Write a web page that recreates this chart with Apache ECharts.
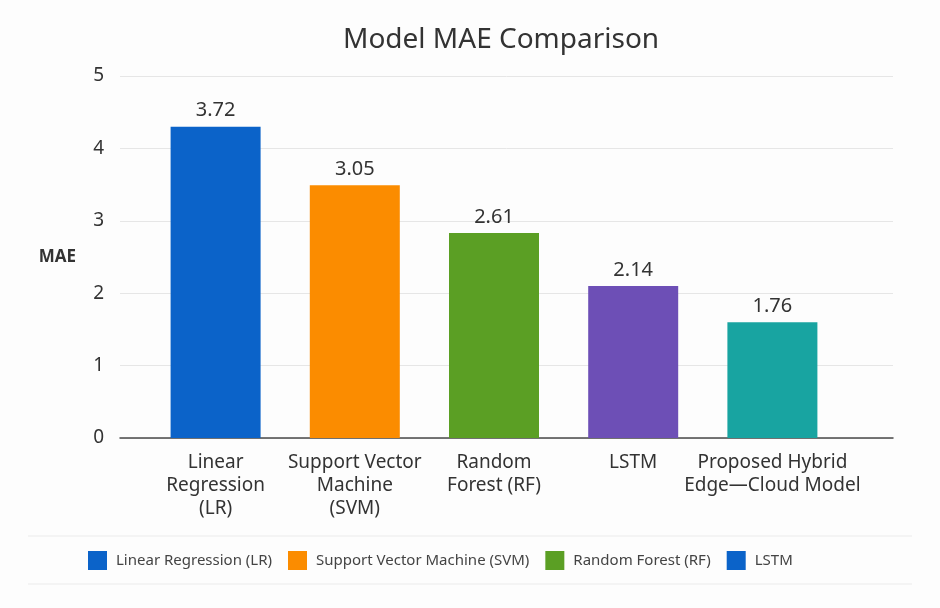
<!DOCTYPE html>
<html>
<head>
<meta charset="utf-8">
<script src="https://cdn.jsdelivr.net/npm/echarts@6/dist/echarts.min.js"></script>
<style>
html,body{margin:0;padding:0;background:#fdfdfd;}
#chart{width:940px;height:608px;}
</style>
</head>
<body>
<div id="chart"></div>
<script>
// ---- data ----
var categories = ['Linear\nRegression\n(LR)', 'Support Vector\nMachine\n(SVM)', 'Random\nForest (RF)', 'LSTM', 'Proposed Hybrid\nEdge\u2014Cloud Model'];
var barValues = [4.30, 3.49, 2.83, 2.10, 1.60];
var valueLabels = ['3.72', '3.05', '2.61', '2.14', '1.76'];
var barColors = ['#0b63c9', '#fb8c00', '#5b9f24', '#6d4fb6', '#18a4a1'];
var legendNames = ['Linear Regression (LR)', 'Support Vector Machine (SVM)', 'Random Forest (RF)', 'LSTM'];
var legendColors = ['#0b63c9', '#fb8c00', '#5b9f24', '#0b63c9'];
var yTicks = [0, 1, 2, 3, 4, 5];

var FONT = 'Noto Sans';
var chart = echarts.init(document.getElementById('chart'));

var series = [{
  name: 'MAE',
  type: 'bar',
  xAxisIndex: 1,
  yAxisIndex: 1,
  barWidth: 90,
  data: barValues.map(function (v, i) { return { value: v, itemStyle: { color: barColors[i] } }; }),
  label: {
    show: true,
    position: 'top',
    distance: 6,
    fontFamily: FONT,
    fontSize: 20,
    color: '#333',
    formatter: function (p) { return valueLabels[p.dataIndex]; }
  },
  silent: true
}];
legendNames.forEach(function (n, i) {
  series.push({
    name: n, type: 'line', xAxisIndex: 1, yAxisIndex: 1, data: [],
    itemStyle: { color: legendColors[i] }, lineStyle: { color: legendColors[i] }
  });
});

chart.setOption({
  backgroundColor: '#fdfdfd',
  animation: false,
  title: {
    text: 'Model MAE Comparison',
    left: 338,
    top: 21,
    textStyle: { fontFamily: FONT, fontSize: 28, fontWeight: 'normal', color: '#333' }
  },
  legend: {
    data: legendNames,
    left: 88,
    top: 551,
    padding: 0,
    icon: 'rect',
    itemWidth: 19,
    itemHeight: 19,
    itemGap: 16,
    textStyle: { fontFamily: FONT, fontSize: 15, color: '#444', padding: [0, 0, 0, 4] },
    selectedMode: false
  },
  grid: [
    { left: 120, right: 47, top: 76, bottom: 170 },
    { left: 146, right: 98, top: 76, bottom: 170 }
  ],
  xAxis: [
    { type: 'value', gridIndex: 0, min: 0, max: 1, axisLabel: { show: false }, axisTick: { show: false }, splitLine: { show: false },
      axisLine: { show: true, onZero: false, lineStyle: { color: '#4a4a4a', width: 1.5 } } },
    { type: 'category', gridIndex: 1, data: categories, axisLine: { show: false }, axisTick: { show: false },
      axisLabel: { interval: 0, margin: 13, fontFamily: FONT, fontSize: 19, lineHeight: 23, color: '#333' } }
  ],
  yAxis: [
    { type: 'value', gridIndex: 0, min: yTicks[0], max: yTicks[yTicks.length - 1], interval: 1,
      name: 'MAE', nameLocation: 'middle', nameRotate: 0, nameGap: 44,
      nameTextStyle: { fontFamily: FONT, fontSize: 17, fontWeight: 'bold', color: '#333' },
      axisLine: { show: false }, axisTick: { show: false },
      axisLabel: { margin: 16, fontFamily: FONT, fontSize: 19, color: '#333' },
      splitLine: { lineStyle: { color: '#e6e6e6', width: 1 } } },
    { type: 'value', gridIndex: 1, min: yTicks[0], max: yTicks[yTicks.length - 1], interval: 1, show: false, splitLine: { show: false } }
  ],
  graphic: [
    { type: 'line', shape: { x1: 28, y1: 536, x2: 912, y2: 536 }, style: { stroke: '#ebebeb', lineWidth: 1 }, silent: true },
    { type: 'line', shape: { x1: 28, y1: 584, x2: 912, y2: 584 }, style: { stroke: '#ebebeb', lineWidth: 1 }, silent: true }
  ],
  series: series
});
</script>
</body>
</html>
